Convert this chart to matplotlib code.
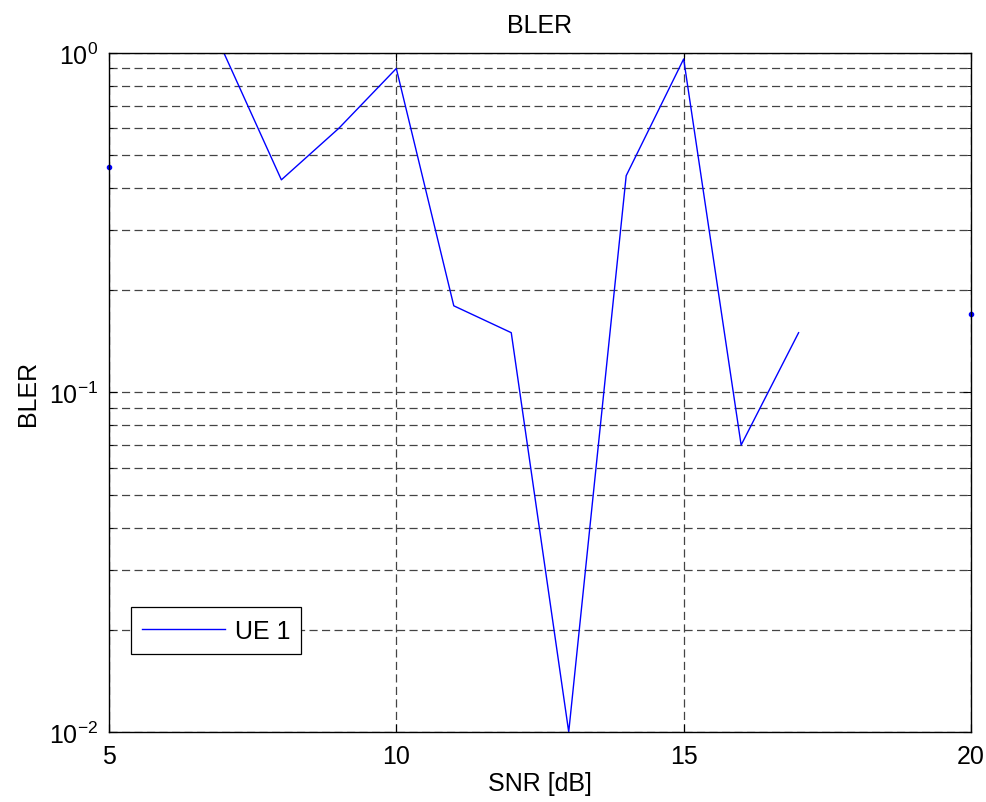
import numpy as np
import matplotlib
matplotlib.use("Agg")
import matplotlib.pyplot as plt
from matplotlib.ticker import LogLocator, FixedLocator, NullFormatter

plt.rcParams["font.family"] = ["Liberation Sans", "DejaVu Sans"]
plt.rcParams["mathtext.fontset"] = "custom"
plt.rcParams["mathtext.rm"] = "Liberation Sans"
plt.rcParams["mathtext.it"] = "Liberation Sans"

# BLER per SNR point for UE 1 (NaN = no block errors, nothing on the log axis)
snr_db = [5, 6, 7, 8, 9, 10, 11, 12, 13, 14, 15, 16, 17, 18, 19, 20]
bler_ue1 = [0.46, np.nan, 1.0, 0.423, 0.6, 0.9, 0.18, 0.15, 0.01, 0.435,
            0.96, 0.07, 0.15, np.nan, np.nan, 0.17]
x_ticks = [5, 10, 15, 20]

FS = 18

fig = plt.figure(figsize=(9.87, 8.03), dpi=100)
ax = fig.add_axes([0.1104, 0.0872, 0.8734, 0.8456])

x = np.array(snr_db, dtype=float)
y = np.array(bler_ue1, dtype=float)
ax.plot(x, y, color="#0000ff", lw=1.0, label="UE 1")

# points with no finite neighbour would vanish in a line plot, show them as dots
ok = np.isfinite(y)
prev_ok = np.r_[False, ok[:-1]]
next_ok = np.r_[ok[1:], False]
lone = ok & ~prev_ok & ~next_ok
ax.plot(x[lone], y[lone], ".", color="#0000ff", ms=6, clip_on=False)

ax.set_yscale("log")
ax.set_xlim(5, 20)
ax.set_ylim(1e-2, 1e0)
ax.xaxis.set_major_locator(FixedLocator(x_ticks))
ax.yaxis.set_major_locator(LogLocator(base=10, numticks=5))
ax.yaxis.set_minor_locator(LogLocator(base=10, subs=np.arange(2, 10), numticks=20))
ax.yaxis.set_minor_formatter(NullFormatter())

grid_kw = dict(color="#444444", ls=(0, (6.5, 3.5)), lw=0.9)
ax.grid(True, which="major", axis="both", **grid_kw)
ax.grid(True, which="minor", axis="y", **grid_kw)

ax.tick_params(which="both", direction="in", top=True, right=True, labelsize=FS)
ax.tick_params(axis="x", which="major", length=6, pad=9)
ax.tick_params(axis="y", which="major", length=6, pad=8)
ax.tick_params(which="minor", length=3)
for sp in ax.spines.values():
    sp.set_linewidth(1.0)

ax.set_title("BLER", fontsize=FS, pad=15)
ax.set_xlabel("SNR [dB]", fontsize=FS, labelpad=2)
ax.set_ylabel("BLER", fontsize=FS, labelpad=6)

leg = ax.legend(loc="lower left", bbox_to_anchor=(0.0255, 0.115), borderaxespad=0,
                fontsize=FS, fancybox=False, framealpha=1, edgecolor="black",
                handlelength=3.3, handletextpad=0.4, borderpad=0.45)
leg.get_frame().set_linewidth(0.9)

fig.savefig("out.png", dpi=100)
